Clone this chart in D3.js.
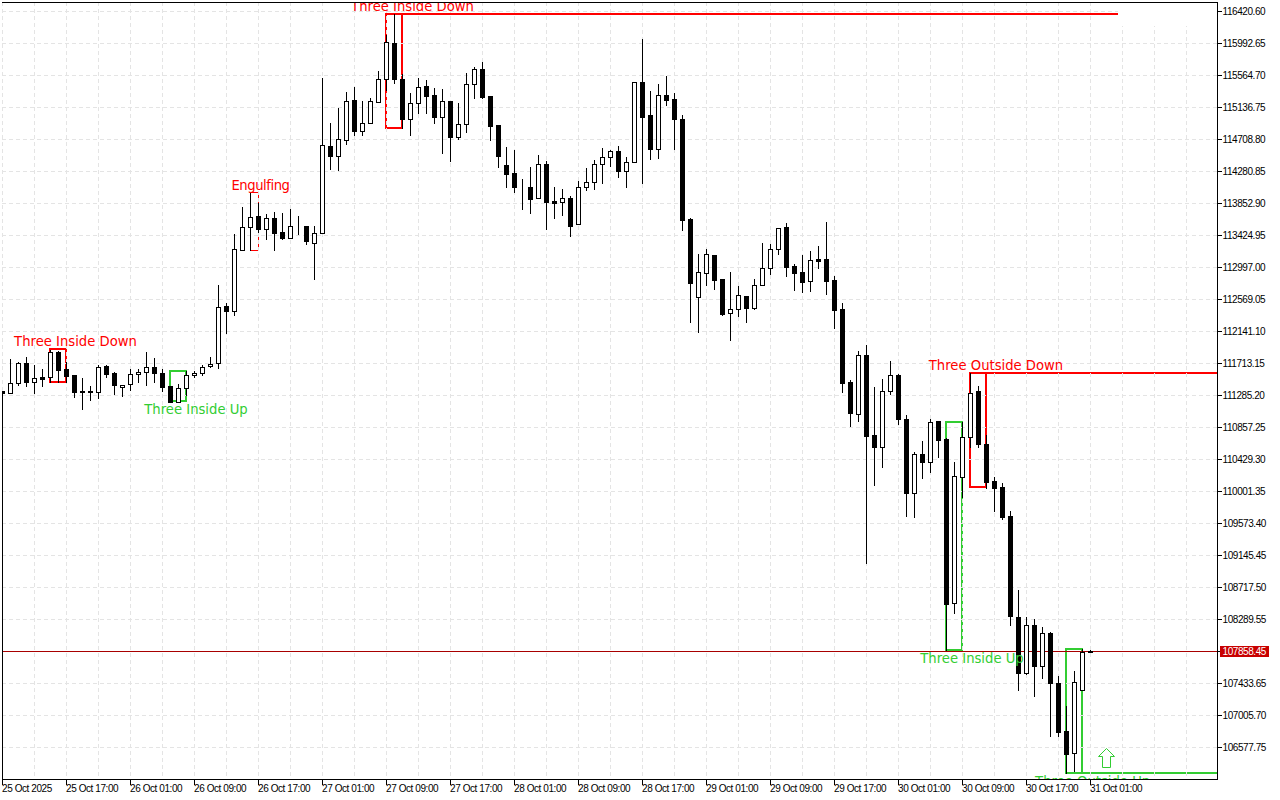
<!DOCTYPE html>
<html>
<head>
<meta charset="utf-8">
<title>H1 candles</title>
<script src="https://cdn.jsdelivr.net/npm/d3@7/dist/d3.min.js"></script>
<style>
  html, body { margin: 0; padding: 0; background: #fff; }
  svg { display: block; }
  .axis text { font-family: "Liberation Sans", sans-serif; font-size: 10px; letter-spacing: -0.42px; fill: #000; }
  .pattern-label { font-family: "DejaVu Sans", sans-serif; font-size: 13.2px; }
</style>
</head>
<body>
<div id="chart"></div>
<script>
///// Data

const opens = [
  111339,111312,111446,111713,111459,111526,111526,111860,111633,111553,
  111339,111339,111325,111673,111580,111393,111433,111567,111593,111660,
  111580,111406,111192,111379,111553,111580,111673,111713,112476,112409,
  113224,113532,113679,113505,113652,113465,113385,113545,113545,113318,
  113452,114615,114481,114695,115230,114816,114923,115203,115511,115993,
  115511,114976,115190,115418,115297,115003,115217,114735,114909,115444,
  115645,115284,114896,114361,114254,114067,114067,113920,114375,113880,
  113866,113920,113572,114067,114134,114375,114468,114549,114281,114401,
  115471,115030,114575,115297,115244,114976,113639,112596,112917,113158,
  112837,112382,112435,112609,112449,112756,112984,113238,113532,113011,
  112930,112810,113104,113104,112823,112435,111459,111032,111820,110750,
  110590,111339,111553,110964,109975,110497,110389,110938,110697,108504,
  110188,110724,111339,110630,110135,110055,109667,108316,107568,108209,
  107661,108103,107434,106792,106498,107340,107845
];
const highs = [
  111339,111767,111726,111793,111686,111633,111887,111874,111726,111553,
  111513,111406,111686,111686,111593,111419,111633,111633,111860,111780,
  111633,111406,111433,111607,111607,111686,111793,112756,112516,113439,
  113799,114000,113853,113706,113732,113719,113772,113679,113545,113545,
  115525,114923,115123,115337,115404,115217,115257,115618,116100,116381,
  115578,115324,115525,115498,115391,115378,115217,115190,115592,115672,
  115738,115284,114896,114602,114562,114174,114334,114495,114415,114067,
  114040,113947,114147,114321,114428,114589,114562,114615,114468,115471,
  116046,115351,115444,115551,115324,115030,113652,113171,113238,113158,
  112837,112930,112743,112609,112837,113318,113305,113519,113585,113037,
  113158,113211,113278,113599,112877,112516,111486,111874,111954,111393,
  111500,111740,111567,111018,110523,110670,110964,110938,110710,110389,
  110924,111580,111406,110750,110188,110108,109734,108678,108316,108289,
  108183,108116,107527,107127,107594,107889,107875
];
const lows = [
  105869,111312,111419,111406,111312,111406,111459,111459,111459,111259,
  111098,111219,111245,111526,111299,111272,111352,111459,111419,111459,
  111339,111192,111192,111285,111526,111553,111660,111647,112115,112355,
  113224,113224,113465,113371,113224,113371,113385,113439,113305,112837,
  113452,114307,114294,114642,114762,114762,114923,115203,115364,115458,
  114856,114762,115057,115057,114923,114522,114415,114708,114802,115257,
  115257,114695,114334,114067,114000,113772,113719,113920,113505,113652,
  113692,113412,113572,114027,114040,114120,114348,114200,114067,114401,
  114120,114441,114455,115163,114575,113492,112261,112128,112756,112703,
  112355,112021,112342,112261,112435,112756,112903,113171,112877,112689,
  112662,112676,112984,112636,112181,111325,110871,110938,109039,110082,
  110322,111299,110898,109667,109654,110175,110255,110456,107875,108370,
  109921,110590,110590,110042,109734,109627,108209,107340,107555,107260,
  107501,106725,106725,106230,106257,107340,107848
];
const closes = [
  111312,111446,111713,111459,111513,111500,111860,111620,111540,111325,
  111325,111325,111660,111567,111419,111419,111567,111593,111660,111580,
  111393,111192,111379,111553,111580,111660,111700,112462,112409,113238,
  113532,113666,113505,113652,113452,113385,113545,113545,113345,113452,
  114629,114481,114708,115217,114816,114923,115217,115511,116006,115511,
  114976,115190,115404,115284,115003,115217,114735,114909,115444,115645,
  115270,114883,114481,114240,114067,114067,113906,114375,113866,113853,
  113920,113545,114067,114134,114375,114468,114549,114281,114401,115471,
  115003,114575,115297,115230,114976,113626,112783,112930,113171,112823,
  112369,112435,112623,112449,112756,112984,113238,113519,112997,112917,
  112796,113091,113077,112810,112422,111446,111045,111820,110737,110590,
  111339,111553,110964,109975,110497,110389,110924,110684,108490,110202,
  110724,111312,110630,110122,110042,109654,108330,107568,108209,107661,
  108103,107434,106778,106484,107447,107848,107858.45
];

// bar index of every time label, one each 8 hours
const timeLabels = [
  "25 Oct 2025", "25 Oct 17:00", "26 Oct 01:00", "26 Oct 09:00", "26 Oct 17:00", "27 Oct 01:00",
  "27 Oct 09:00", "27 Oct 17:00", "28 Oct 01:00", "28 Oct 09:00", "28 Oct 17:00", "29 Oct 01:00",
  "29 Oct 09:00", "29 Oct 17:00", "30 Oct 01:00", "30 Oct 09:00", "30 Oct 17:00", "31 Oct 01:00"
];
const priceTicks = [
  116420.60, 115992.65, 115564.70, 115136.75, 114708.80, 114280.85, 113852.90, 113424.95,
  112997.00, 112569.05, 112141.10, 111713.15, 111285.20, 110857.25, 110429.30, 110001.35,
  109573.40, 109145.45, 108717.50, 108289.55, 107861.60, 107433.65, 107005.70, 106577.75
];
const lastPrice = 107858.45;

// candle patterns
const patternNames = ["Three Inside Down", "Three Inside Up", "Engulfing", "Three Inside Down", "Three Inside Up", "Three Outside Down", "Three Outside Up"];
const patternTrend = ["down", "up", "down", "down", "up", "down", "up"];
const patternFirst = [6, 21, 31, 48, 118, 121, 133];
const patternLast = [8, 23, 32, 50, 120, 123, 135];
const patternTop = [111907, 111614, 114000, 116387, 110931, 111587, 107896];
const patternBottom = [111466, 111212, 113224, 114863, 107882, 110062, 106237];
const patternLabelBar = [9.125, 24.19, 32.25, 51.25, 121.19, 124.19, 136.27];
const patternExtends = [null, null, null, "top", null, "top", "bottom"];

const arrowBar = 138;
const arrowPrice = 106310;


///// Sizes and scales

const width = 1280, height = 800;
const plot = { left: 2, top: 2, right: 1217, bottom: 779 };
const lastBar = 152;

let x = d3.scaleLinear().domain([0, lastBar]).range([2.5, 2.5 + 8 * lastBar]);
let y = d3.scaleLinear().domain([priceTicks[0], priceTicks[priceTicks.length - 1]]).range([11.5, 747.5]);

// keep 1px things on the pixel rows
function row(price) { return Math.round(y(price) - 0.5) + 0.5; }

let trendColor = d3.scaleOrdinal().domain(["up", "down"]).range(["#32cd32", "#ff0000"]);

let svg = d3.select("#chart")
    .append("svg")
    .attr("width", width)
    .attr("height", height);

svg.append("rect").attr("width", width).attr("height", height).attr("fill", "#fff");

svg.append("clipPath").attr("id", "plot-clip")
    .append("rect")
    .attr("x", plot.left)
    .attr("y", plot.top + 1)
    .attr("width", plot.right - plot.left)
    .attr("height", plot.bottom - plot.top - 1);

let chart = svg.append("g").attr("clip-path", "url(#plot-clip)");


///// Pattern boxes (they sit under the grid, that is why some sides look dashed)

let patterns = d3.range(patternNames.length).map(function(i) {
    return {
        name: patternNames[i],
        color: trendColor(patternTrend[i]),
        bars: patternLast[i] - patternFirst[i] + 1,
        x0: x(patternFirst[i]),
        x1: x(patternLast[i]),
        top: patternTop[i],
        bottom: patternBottom[i],
        labelX: x(patternLabelBar[i]),
        extend: patternExtends[i],
        trend: patternTrend[i]
    };
});

patterns.forEach(function(p) {
    // the two bar pattern is drawn thin
    let thin = p.bars == 2;
    let sw = thin ? 1 : 2;
    let shift = thin ? 0 : -0.5;
    let yPos = function(v) { return thin ? row(v) : Math.round(y(v)); };
    let left = p.x0 + shift, right = p.x1 + shift;
    let top = yPos(p.top), bottom = yPos(p.bottom);

    let path = d3.path();
    path.moveTo(left, top);
    path.lineTo(right, top);
    path.lineTo(right, bottom);
    path.lineTo(left, bottom);
    path.closePath();
    if (p.extend) {
        let level = p.extend == "top" ? top : bottom;
        path.moveTo(right, level);
        path.lineTo(plot.right, level);
    }

    chart.append("path")
        .attr("d", path.toString())
        .attr("fill", "none")
        .attr("stroke", p.color)
        .attr("stroke-width", sw)
        .attr("shape-rendering", "crispEdges");
});


///// Grid

let grid = chart.append("g")
    .attr("stroke", "#e4e4e4")
    .attr("stroke-dasharray", "4,3")
    .attr("shape-rendering", "crispEdges");

grid.selectAll(".grid-h")
    .data(priceTicks)
    .enter().append("line")
    .attr("class", "grid-h")
    .attr("x1", plot.left)
    .attr("x2", plot.right)
    .attr("y1", function(d) { return row(d); })
    .attr("y2", function(d) { return row(d); });

grid.selectAll(".grid-v")
    .data(d3.range(0, lastBar, 4))
    .enter().append("line")
    .attr("class", "grid-v")
    .attr("x1", function(d) { return x(d); })
    .attr("x2", function(d) { return x(d); })
    .attr("y1", plot.top)
    .attr("y2", plot.bottom);

// blank patch in the top right corner of the plot
chart.append("rect")
    .attr("x", 1118)
    .attr("y", plot.top + 1)
    .attr("width", plot.right - 1118)
    .attr("height", 23)
    .attr("fill", "#fff");


///// Last price line

chart.append("line")
    .attr("x1", plot.left)
    .attr("x2", plot.right)
    .attr("y1", row(lastPrice))
    .attr("y2", row(lastPrice))
    .attr("stroke", "#a80000")
    .attr("shape-rendering", "crispEdges");


///// Candles

let candles = chart.append("g")
    .selectAll("g")
    .data(opens.map(function(o, i) {
        return { i: i, open: o, high: highs[i], low: lows[i], close: closes[i] };
    }))
    .enter().append("g")
    .attr("shape-rendering", "crispEdges");

candles.append("line")
    .attr("x1", function(d) { return x(d.i); })
    .attr("x2", function(d) { return x(d.i); })
    .attr("y1", function(d) { return row(d.high) - 0.5; })
    .attr("y2", function(d) { return row(d.low) + 0.5; })
    .attr("stroke", "#000");

candles.append("rect")
    .attr("x", function(d) { return x(d.i) - 2; })
    .attr("width", 4)
    .attr("y", function(d) { return Math.min(row(d.open), row(d.close)); })
    .attr("height", function(d) { return Math.abs(row(d.open) - row(d.close)); })
    .attr("fill", function(d) { return d.close >= d.open ? "#fff" : "#000"; })
    .attr("stroke", "#000");


///// Pattern names and the arrow

chart.selectAll(".pattern-label")
    .data(patterns)
    .enter().append("text")
    .attr("class", "pattern-label")
    .attr("x", function(d) { return d.labelX; })
    .attr("y", function(d) { return d.trend == "down" ? y(d.top) - 3 : y(d.bottom) + 13; })
    .attr("text-anchor", "middle")
    .attr("letter-spacing", function(d) { return d.name == "Engulfing" ? "-0.45px" : null; })
    .attr("fill", function(d) { return d.color; })
    .text(function(d) { return d.name; });

let arrowX = x(arrowBar), arrowY = row(arrowPrice);
let arrowLine = d3.line()
    .x(function(d) { return arrowX + d[0]; })
    .y(function(d) { return arrowY + d[1]; });

chart.append("path")
    .attr("d", arrowLine([[-4, 0], [4, 0], [4, -11], [8, -11], [0, -19], [-8, -11], [-4, -11]]) + "Z")
    .attr("fill", "#fff")
    .attr("stroke", "#32cd32");


///// Axes

let xAxis = d3.axisBottom(x)
    .tickValues(timeLabels.map(function(d, i) { return i * 8; }))
    .tickFormat(function(d, i) { return timeLabels[i]; })
    .tickSize(5)
    .tickSizeOuter(0)
    .offset(0);

let xAxisG = svg.append("g")
    .attr("class", "axis")
    .attr("transform", "translate(0," + (plot.bottom + 0.5) + ")")
    .call(xAxis);

xAxisG.select(".domain").remove();
xAxisG.selectAll("text")
    .attr("text-anchor", "start")
    .attr("x", -0.5)
    .attr("y", 5.5)
    .attr("dy", "0.71em");

let yAxis = d3.axisRight(y)
    .tickValues(priceTicks)
    .tickFormat(d3.format(".2f"))
    .tickSize(4)
    .tickSizeOuter(0)
    .offset(0);

let yAxisG = svg.append("g")
    .attr("class", "axis")
    .attr("transform", "translate(" + (plot.right + 0.5) + ",0)")
    .call(yAxis);

yAxisG.select(".domain").remove();
yAxisG.selectAll("text").attr("x", 5);
svg.selectAll(".axis line").attr("shape-rendering", "crispEdges");

// frame: top, right and bottom
let frame = d3.path();
frame.moveTo(plot.left, plot.top + 0.5);
frame.lineTo(plot.right + 0.5, plot.top + 0.5);
frame.lineTo(plot.right + 0.5, plot.bottom + 0.5);
frame.lineTo(plot.left, plot.bottom + 0.5);

svg.append("path")
    .attr("d", frame.toString())
    .attr("fill", "none")
    .attr("stroke", "#000")
    .attr("shape-rendering", "crispEdges");

// last price tag
let tag = svg.append("g").attr("class", "axis");

tag.append("rect")
    .attr("x", 1220)
    .attr("y", row(lastPrice) - 5.5)
    .attr("width", 49)
    .attr("height", 11)
    .attr("fill", "#c80000");

tag.append("text")
    .attr("x", plot.right + 5.5)
    .attr("y", row(lastPrice))
    .attr("dy", "0.32em")
    .style("fill", "#fff")
    .text(d3.format(".2f")(lastPrice));
</script>
</body>
</html>
